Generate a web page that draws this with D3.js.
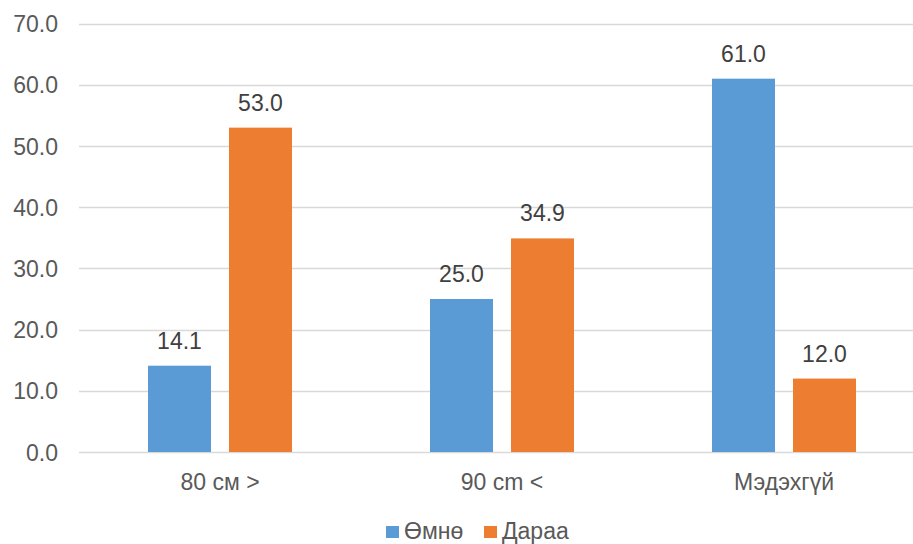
<!DOCTYPE html>
<html>
<head>
<meta charset="utf-8">
<script src="https://cdn.jsdelivr.net/npm/d3@7"></script>
<style>
  html, body { margin: 0; padding: 0; background: #fff; }
  svg { display: block; font-family: "Liberation Sans", Arial, sans-serif; }
</style>
</head>
<body>
<svg id="chart" width="913" height="544"></svg>
<script>
// Waist circumference awareness, before vs after
const categories = ["80 см >", "90 cm <", "Мэдэхгүй"];
const seriesNames = ["Өмнө", "Дараа"];
const before = [14.1, 25.0, 61.0];
const after = [53.0, 34.9, 12.0];
const yTicks = [0, 10, 20, 30, 40, 50, 60, 70];
const colors = ["#5B9BD5", "#ED7D31"];

const FONT = 23;
const svg = d3.select("#chart");
const plotLeft = 79, plotRight = 925, plotTop = 23.6, plotBottom = 452;

const y = d3.scaleLinear().domain([0, 70]).range([plotBottom, plotTop]);
const x0 = d3.scaleBand().domain(categories).range([plotLeft, plotRight]).paddingInner(0).paddingOuter(0);
const x1 = d3.scaleBand().domain(seriesNames).range([0, 144]).paddingInner(18 / 81).paddingOuter(0);

// gridlines
svg.append("g").selectAll("line").data(yTicks).join("line")
  .attr("x1", plotLeft).attr("x2", plotRight)
  .attr("y1", d => Math.round(y(d)) + 0.5).attr("y2", d => Math.round(y(d)) + 0.5)
  .attr("stroke", "#d9d9d9").attr("stroke-width", 1.3);

// y tick labels
const yAxis = d3.axisLeft(y).tickValues(yTicks).tickFormat(d3.format(".1f")).tickSize(0).tickPadding(0);
const ya = svg.append("g").attr("transform", "translate(58,0)").call(yAxis);
ya.select(".domain").remove();
ya.selectAll("text").attr("font-size", FONT).attr("fill", "#595959")
  .attr("font-family", "Liberation Sans, Arial, sans-serif").attr("dy", "0.35em");

// category labels
const xAxis = d3.axisBottom(x0).tickSize(0).tickPadding(0);
const xa = svg.append("g").attr("transform", `translate(0,${plotBottom})`).call(xAxis);
xa.select(".domain").remove();
xa.selectAll("text").attr("font-size", FONT).attr("fill", "#595959")
  .attr("font-family", "Liberation Sans, Arial, sans-serif").attr("dy", 0).attr("y", 38);

const rows = categories.map((c, i) => ({ cat: c, values: [before[i], after[i]] }));
const groups = svg.append("g").selectAll("g").data(rows).join("g")
  .attr("transform", d => `translate(${x0(d.cat) + (x0.bandwidth() - 144) / 2},0)`);

groups.selectAll("rect").data(d => d.values.map((v, j) => ({ v, j }))).join("rect")
  .attr("x", d => x1(seriesNames[d.j]))
  .attr("width", x1.bandwidth())
  .attr("y", d => y(d.v))
  .attr("height", d => y(0) - y(d.v))
  .attr("fill", d => colors[d.j]);

groups.selectAll("text").data(d => d.values.map((v, j) => ({ v, j }))).join("text")
  .attr("x", d => x1(seriesNames[d.j]) + x1.bandwidth() / 2)
  .attr("y", d => y(d.v) - 17)
  .attr("text-anchor", "middle")
  .attr("font-size", FONT).attr("fill", "#404040")
  .text(d => d.v.toFixed(1));

// legend
const legend = svg.append("g").attr("transform", "translate(386,531)");
const legendX = [0, 98];
seriesNames.forEach((name, i) => {
  const g = legend.append("g").attr("transform", `translate(${legendX[i]},0)`);
  g.append("rect").attr("x", 0).attr("y", -5).attr("width", 13).attr("height", 12).attr("fill", colors[i]);
  g.append("text").attr("x", 18).attr("y", 0).attr("dy", "0.35em")
    .attr("font-size", FONT).attr("fill", "#595959").text(name);
});
</script>
</body>
</html>
